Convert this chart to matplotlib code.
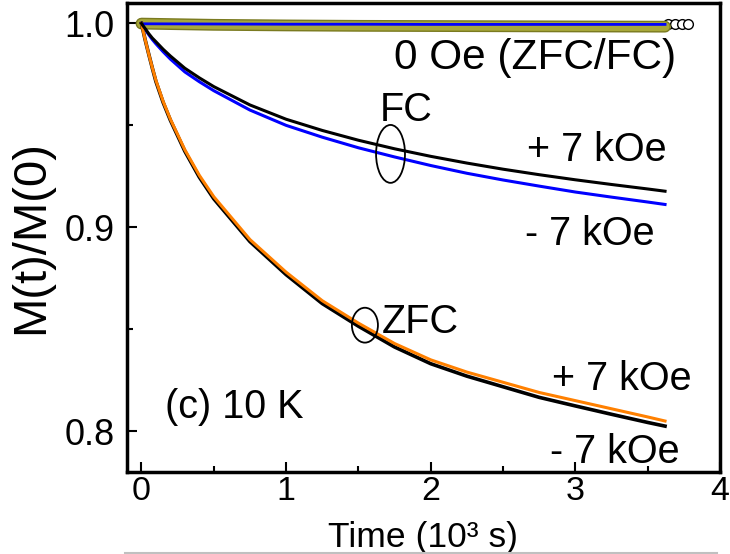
import matplotlib
matplotlib.use("Agg")
import matplotlib.pyplot as plt
from matplotlib.patches import Ellipse
from matplotlib.lines import Line2D
import matplotlib.patheffects as pe

plt.rcParams['font.family'] = ['Liberation Sans', 'DejaVu Sans']

# time in units of 10^3 s
t = [0, 0.01, 0.025, 0.05, 0.075, 0.1, 0.15, 0.2, 0.3, 0.4, 0.5, 0.75, 1.0, 1.25,
     1.5, 1.75, 2.0, 2.25, 2.5, 2.75, 3.0, 3.25, 3.5, 3.62]

# FC, +7 kOe (black) and -7 kOe (blue)
fc_plus = [1.0, 0.9989, 0.9975, 0.995, 0.9928, 0.991, 0.9873, 0.984, 0.978, 0.9733,
           0.969, 0.960, 0.953, 0.9475, 0.9427, 0.9385, 0.9348, 0.9315, 0.9285,
           0.9258, 0.9233, 0.921, 0.9188, 0.9177]
fc_minus = [1.0, 0.9988, 0.9972, 0.9945, 0.9921, 0.990, 0.9861, 0.9825, 0.9762, 0.9714,
            0.967, 0.9575, 0.950, 0.9442, 0.939, 0.9345, 0.9303, 0.9265, 0.9232,
            0.9202, 0.9173, 0.9148, 0.9124, 0.9112]

# ZFC, +7 kOe (orange) and -7 kOe (black)
zfc_plus = [1.0, 0.9968, 0.9922, 0.985, 0.9783, 0.972, 0.9617, 0.953, 0.938, 0.9255,
            0.915, 0.894, 0.878, 0.864, 0.853, 0.843, 0.835, 0.829, 0.824, 0.819,
            0.815, 0.811, 0.807, 0.805]
zfc_minus = [1.0, 0.9968, 0.9921, 0.985, 0.9781, 0.9715, 0.9612, 0.9525, 0.9373, 0.9246,
             0.914, 0.893, 0.8768, 0.8626, 0.8515, 0.8413, 0.8331, 0.827, 0.8218,
             0.8166, 0.8124, 0.8083, 0.8043, 0.8025]

# 0 Oe (ZFC/FC)
t0 = [0, 0.5, 1.0, 1.5, 2.0, 2.5, 3.0, 3.62]
zero_olive = [0.9999, 0.9993, 0.9990, 0.9988, 0.9987, 0.9986, 0.9985, 0.9984]
zero_blue = [0.9998, 0.9997, 0.9996, 0.9996, 0.9995, 0.9995, 0.9995, 0.9995]
t_open = [3.64, 3.69, 3.74, 3.78]
zero_open = [0.9995, 0.9995, 0.9995, 0.9995]

fig = plt.figure(figsize=(7.3, 5.54), dpi=100)
ax = fig.add_axes([127/730, 1-472/554, (720-127)/730, (472-3)/554])

fa = 28.5   # annotation size
ft = 24.5   # tick label size

# 0 Oe band
ax.plot(t_open, zero_open, 'o', ms=7, mfc='white', mec='black', mew=1.0, zorder=2)
ax.plot(t0, zero_olive, '-', color='#a8a83a', lw=6.5, solid_capstyle='round', zorder=3,
        path_effects=[pe.Stroke(linewidth=8.5, foreground='#7a7a20'), pe.Normal()])
ax.plot(t0, zero_blue, '-', color='#0000ff', lw=2.0, zorder=4)

ax.plot(t, zfc_minus, '-', color='black', lw=2.6, zorder=5)
ax.plot(t, zfc_plus, '-', color='#ff8000', lw=2.2, zorder=6)
ax.plot(t, fc_minus, '-', color='#0000ff', lw=2.2, zorder=5)
ax.plot(t, fc_plus, '-', color='black', lw=2.2, zorder=6)

ax.add_patch(Ellipse((1.722, 0.936), 0.20, 0.0284, fill=False, ec='black', lw=1.3, zorder=7))
ax.add_patch(Ellipse((1.545, 0.852), 0.18, 0.0171, fill=False, ec='black', lw=1.3, zorder=7))

ax.text(2.72, 0.983, '0 Oe (ZFC/FC)', fontsize=30.5, ha='center', va='center')
ax.text(1.83, 0.9575, 'FC', fontsize=fa, ha='center', va='center')
ax.text(3.15, 0.938, '+ 7 kOe', fontsize=fa, ha='center', va='center')
ax.text(3.10, 0.8968, '- 7 kOe', fontsize=fa, ha='center', va='center')
ax.text(1.93, 0.8538, 'ZFC', fontsize=fa, ha='center', va='center')
ax.text(3.32, 0.8254, '+ 7 kOe', fontsize=fa, ha='center', va='center')
ax.text(3.27, 0.790, '- 7 kOe', fontsize=fa, ha='center', va='center')
ax.text(0.16, 0.8117, '(c) 10 K', fontsize=fa, ha='left', va='center')

ax.set_xlim(-0.1, 4.0)
ax.set_ylim(0.78, 1.01)
ax.set_xticks([0, 1, 2, 3, 4])
ax.set_xticks([0.5, 1.5, 2.5, 3.5], minor=True)
ax.set_yticks([0.8, 0.9, 1.0])
ax.set_yticks([0.85, 0.95], minor=True)
ax.set_yticklabels(['0.8', '0.9', '1.0'])
ax.tick_params(which='both', direction='in', width=1.5, labelsize=ft, top=False, right=False)
ax.tick_params(which='major', length=7)
ax.tick_params(axis='y', which='major', pad=9, labelsize=26)
ax.tick_params(axis='x', which='major', pad=3)
ax.tick_params(which='minor', length=4)
for s in ax.spines.values():
    s.set_linewidth(2.5)

ax.set_xlabel('Time (10³ s)', fontsize=25.5, va='bottom')
ax.xaxis.set_label_coords(0.5, -(553.5 - 472) / 469)
ax.set_ylabel('M(t)/M(0)', fontsize=34, labelpad=8)

fig.add_artist(Line2D([125/730, 717/730], [0.002, 0.002], color='#c0c0c0', lw=1.5))

fig.savefig('out.png', dpi=100)
